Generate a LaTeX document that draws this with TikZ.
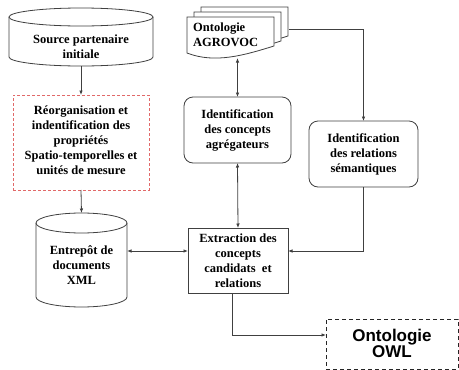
\documentclass[tikz,border=0pt]{standalone}
\usepackage{fontspec}
\setmainfont{Liberation Serif}
\newfontfamily\owlfont{Liberation Sans}
\usetikzlibrary{arrows.meta}
\definecolor{edge}{gray}{0.25}
\definecolor{dashred}{RGB}{225,105,105}
\tikzset{
  lbl/.style={font=\bfseries\fontsize{12.5}{15}\selectfont, align=center, inner sep=0pt},
  area/.style={inner sep=0pt, outer sep=0pt, draw=none},
  plainbox/.style={area, draw=edge, line width=0.8pt, fill=white},
  roundbox/.style={plainbox, rounded corners=9pt},
  redbox/.style={area, draw=dashred, line width=0.8pt, dash pattern=on 3pt off 2pt},
  owlbox/.style={area, draw=black!85, line width=0.9pt, dash pattern=on 4pt off 3pt},
  shapeline/.style={draw=edge, line width=0.8pt, fill=white},
  conn/.style={draw=edge, line width=0.8pt},
  tip/.style={conn, -{Latex[length=4.5pt,width=3.6pt]}},
  twotips/.style={conn, {Latex[length=4.5pt,width=3.6pt]}-{Latex[length=4.5pt,width=3.6pt]}}
}
\begin{document}
\begin{tikzpicture}[x=1pt,y=1pt]
\useasboundingbox (0,0) rectangle (459,-370);

% source cylinder
\path[shapeline] (9,-17) -- (9,-57) arc (180:360:72 and 9) -- (153,-17);
\draw[shapeline] (81,-17) ellipse (72 and 9);
\node[area, minimum width=144pt, minimum height=58pt] (src) at (81,-37) {};
\node[lbl] (srct) at (81,-46.5) {Source partenaire\\initiale};

% reorganisation step
\node[redbox, minimum width=136pt, minimum height=95pt] (reorg) at (81,-142.5) {};
\node[lbl] (reorgt) at (81,-140) {Réorganisation et\\indentification des\\propriétés\\Spatio-temporelles et\\unités de mesure};

% XML warehouse cylinder
\path[shapeline] (36,-223) -- (36,-297) arc (180:360:45.5 and 10) -- (127,-223);
\draw[shapeline] (81.5,-223) ellipse (45.5 and 10);
\node[area, minimum width=91pt, minimum height=94pt] (xml) at (81.5,-260) {};
\node[lbl] (xmlt) at (81.5,-265) {Entrepôt de\\documents\\XML};

% AGROVOC document stack
\foreach \dx/\dy in {14/10, 7/5, 0/0}{
  \path[shapeline, shift={(\dx,\dy)}] (187,-17) -- (274,-17) -- (274,-46)
     .. controls (245,-55) and (215,-64) .. (187,-53) -- cycle;
}
\node[area, minimum width=102pt, minimum height=51pt] (agro) at (237.5,-32.5) {};
\node[lbl, align=left, anchor=west] (agrot) at (193,-35) {Ontologie\\AGROVOC};

% aggregating concepts
\node[roundbox, lbl, minimum width=107pt, minimum height=66pt] (idc) at (237.5,-130)
  {Identification\\des concepts\\agrégateurs};

% semantic relations
\node[roundbox, lbl, minimum width=109pt, minimum height=66pt] (rel) at (363.5,-154)
  {Identification\\des relations\\sémantiques};

% extraction
\node[plainbox, lbl, minimum width=100pt, minimum height=65pt] (ext) at (238,-260.5)
  {Extraction des\\concepts\\candidats\ \ et\\relations};

% resulting ontology
\node[owlbox, minimum width=132pt, minimum height=50pt] (owl) at (392,-344) {};
\node[font=\owlfont\bfseries\fontsize{17}{16}\selectfont, align=center, inner sep=0pt] (owlt) at (392,-343)
  {Ontologie\\OWL};

% connectors
\draw[tip] (src.south) -- (reorg.north);
\draw[tip] (reorg.south) -- (xml.north);
\draw[twotips] (xml.east |- 0,-251) -- (ext.west |- 0,-251);
\draw[twotips] (agro.south) -- (idc.north);
\draw[twotips] (idc.south) -- (ext.north);
\draw[tip] (agro.east |- 0,-29) -| (rel.north);
\draw[tip] (rel.south) |- (ext.east |- 0,-251);
\draw[tip] ([xshift=-6pt]ext.south) |- (owl.west |- 0,-335);
\end{tikzpicture}
\end{document}
